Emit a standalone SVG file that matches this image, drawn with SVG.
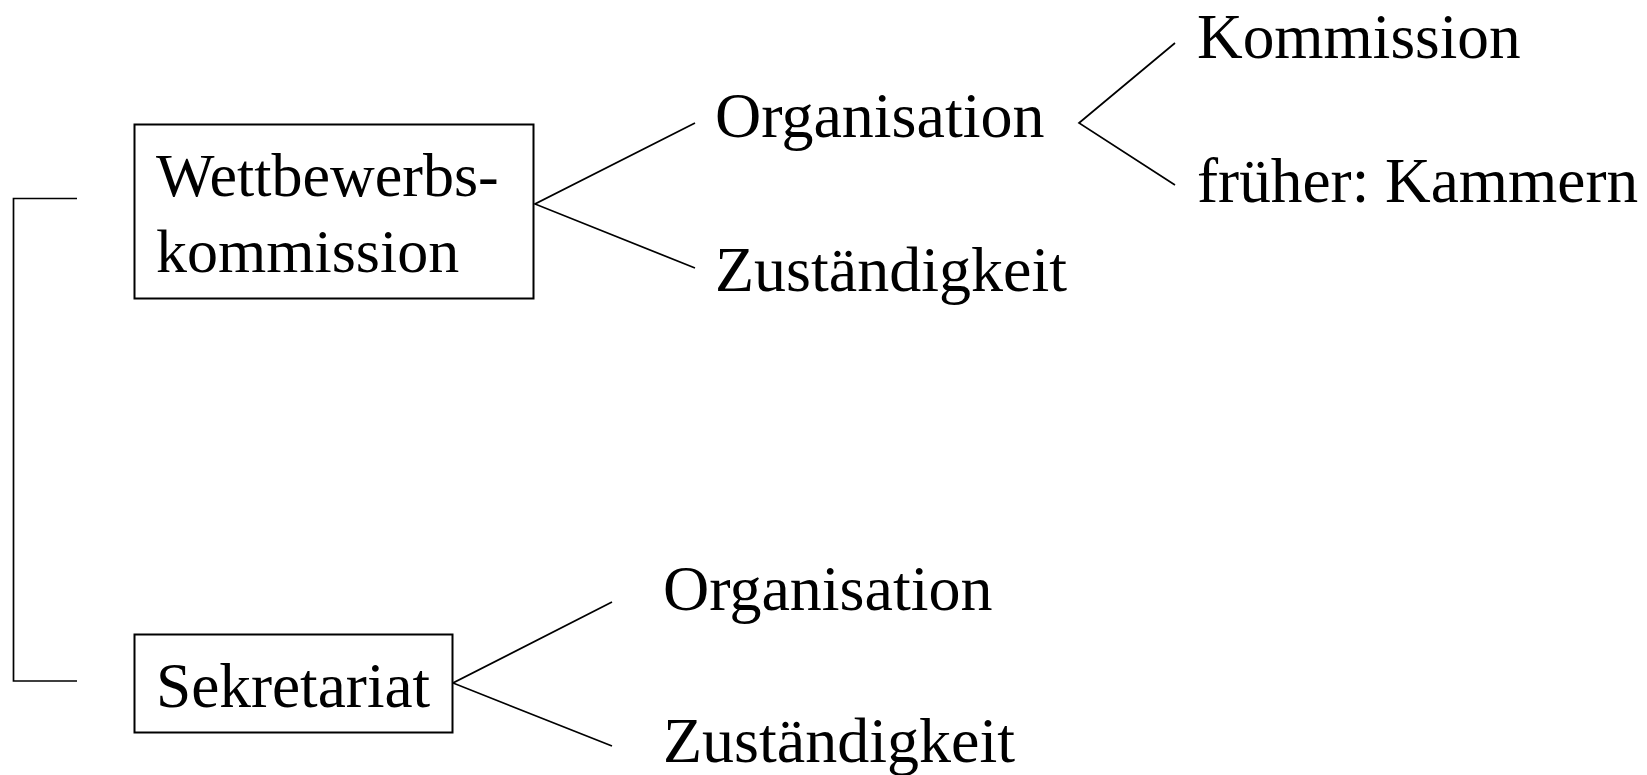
<svg xmlns="http://www.w3.org/2000/svg" width="1647" height="775" viewBox="0 0 1647 775">
<style>
text{font-family:"Liberation Serif","Times New Roman",serif;font-size:64px;fill:#000}
.box{fill:#fff;stroke:#000;stroke-width:2}
.ln{fill:none;stroke:#000;stroke-width:1.7}
</style>
<rect width="1647" height="775" fill="#fff"/>
<g id="connectors">
<polyline class="ln" points="77,198.5 13.5,198.5 13.5,681 77,681"/>
<polyline class="ln" points="695,123 535,204 695,268"/>
<polyline class="ln" points="1175,43 1079,123 1175,185"/>
<polyline class="ln" points="612,602 453,683 612,746"/>
</g>
<g id="wettbewerbskommission">
<rect class="box" x="134.5" y="124.5" width="399" height="174"/>
<text x="156" y="196" style="font-size:62px">Wettbewerbs-</text>
<text x="156" y="272" style="font-size:62px">kommission</text>
</g>
<g id="organisation1"><text x="715" y="137">Organisation</text></g>
<g id="zustaendigkeit1"><text x="715" y="291">Zuständigkeit</text></g>
<g id="kommission"><text x="1197" y="58" style="font-size:63.3px">Kommission</text></g>
<g id="kammern"><text x="1197" y="202" style="font-size:63.3px">früher: Kammern</text></g>
<g id="sekretariat">
<rect class="box" x="134.5" y="634.5" width="318" height="98"/>
<text x="156" y="707" style="font-size:63.3px">Sekretariat</text>
</g>
<g id="organisation2"><text x="663" y="610">Organisation</text></g>
<g id="zustaendigkeit2"><text x="663" y="762">Zuständigkeit</text></g>
</svg>
